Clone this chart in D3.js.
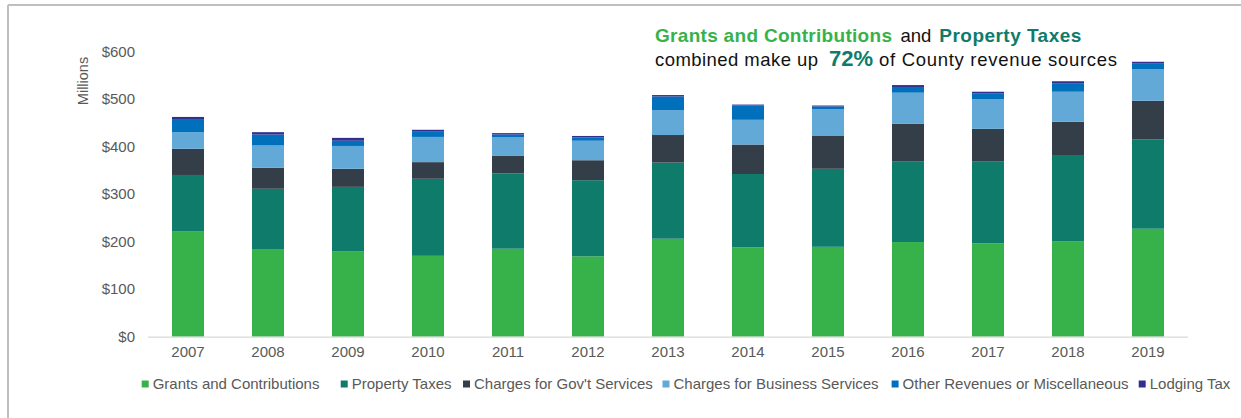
<!DOCTYPE html>
<html>
<head>
<meta charset="utf-8">
<script src="https://cdn.jsdelivr.net/npm/d3@7"></script>
<style>
  html, body { margin: 0; padding: 0; background: #fff; }
  svg { display: block; font-family: "Liberation Sans", Arial, sans-serif; }
</style>
</head>
<body>
<svg id="chart" width="1241" height="418"></svg>
<script>
// Fiscal years on the x axis
const years = ["2007","2008","2009","2010","2011","2012","2013","2014","2015","2016","2017","2018","2019"];

// Revenue by source, in millions of dollars
const grants        = [222, 183, 179, 170, 185, 169, 206, 188, 189, 199, 196, 200, 227];
const propertyTaxes = [118, 128, 136, 162, 158, 160, 160, 154, 164, 169, 172, 182, 188];
const govServices   = [55, 44, 38, 35, 37, 42, 58, 62, 70, 80, 69, 70, 81];
const bizServices   = [35, 47, 48, 53, 39, 41, 52, 52, 55, 65, 62, 63, 66];
const otherRevenue  = [26, 23, 11, 11, 6, 7, 29, 30, 6, 12, 12, 18, 12];
const lodgingTax    = [6, 5, 6, 4, 3, 3, 3, 2, 2, 4, 4, 4, 4];

const seriesNames = ["Grants and Contributions", "Property Taxes", "Charges for Gov't Services",
                     "Charges for Business Services", "Other Revenues or Miscellaneous", "Lodging Tax"];
const seriesValues = [grants, propertyTaxes, govServices, bizServices, otherRevenue, lodgingTax];
const seriesColors = ["#37b24a", "#0e7b6b", "#343e48", "#62a9d8", "#0070bd", "#332f8f"];

const yTicks = [0, 100, 200, 300, 400, 500, 600];

const svg = d3.select("#chart");

// Frame lines along the top and left edges
svg.append("line").attr("x1", 8).attr("x2", 1241).attr("y1", 5).attr("y2", 5)
  .attr("stroke", "#bfbfbf").attr("stroke-width", 2);
svg.append("line").attr("x1", 8).attr("x2", 8).attr("y1", 5).attr("y2", 418)
  .attr("stroke", "#bfbfbf").attr("stroke-width", 2);

const plot = { left: 148, right: 1188, top: 51.3, bottom: 336.7 };

const x = d3.scaleBand().domain(years).range([plot.left, plot.right]).paddingInner(0.6).paddingOuter(0.3);
const y = d3.scaleLinear().domain([0, 600]).range([plot.bottom, plot.top]);

// Stack the series
const table = years.map((yr, i) => {
  const row = { year: yr };
  seriesNames.forEach((n, k) => row[n] = seriesValues[k][i]);
  return row;
});
const stacked = d3.stack().keys(seriesNames)(table);

svg.append("g").selectAll("g")
  .data(stacked)
  .join("g")
  .attr("fill", (d, i) => seriesColors[i])
  .selectAll("rect")
  .data(d => d)
  .join("rect")
  .attr("x", d => x(d.data.year))
  .attr("width", x.bandwidth())
  .attr("y", d => y(d[1]))
  .attr("height", d => y(d[0]) - y(d[1]));

// Y axis labels
const yAxis = svg.append("g")
  .attr("transform", `translate(${plot.left},0)`)
  .call(d3.axisLeft(y).tickValues(yTicks).tickFormat(d => "$" + d).tickSize(0).tickPadding(13));
yAxis.select(".domain").remove();
yAxis.selectAll("text").attr("font-size", 15).attr("fill", "#595959")
  .attr("font-family", "Liberation Sans, Arial, sans-serif");

// X axis
const xAxis = svg.append("g")
  .attr("transform", `translate(0,${plot.bottom})`)
  .call(d3.axisBottom(x).tickSize(0).tickPadding(10));
xAxis.select(".domain").attr("stroke", "#d9d9d9").attr("stroke-width", 1.3)
  .attr("d", `M${plot.left},0.5H${plot.right}`);
xAxis.selectAll("text").attr("font-size", 15).attr("fill", "#595959")
  .attr("font-family", "Liberation Sans, Arial, sans-serif");

// Axis title
svg.append("text")
  .attr("transform", "translate(88,81) rotate(-90)")
  .attr("text-anchor", "middle")
  .attr("font-size", 14.5)
  .attr("fill", "#595959")
  .text("Millions");

// Legend
const legendX = [141.7, 340.7, 463, 662.5, 891.6, 1138.7];
const legend = svg.append("g").selectAll("g")
  .data(seriesNames)
  .join("g")
  .attr("transform", (d, i) => `translate(${legendX[i]},384)`);
legend.append("rect").attr("x", 0).attr("y", -3.5).attr("width", 7).attr("height", 7)
  .attr("fill", (d, i) => seriesColors[i]);
legend.append("text").attr("x", 11).attr("dy", "0.35em")
  .attr("font-size", 15).attr("fill", "#595959").text(d => d);

// Headline
const line1 = svg.append("text").attr("y", 42).attr("font-size", 19);
line1.append("tspan").attr("x", 655).attr("font-weight", "bold").attr("fill", "#37b24a")
  .attr("textLength", 237).attr("lengthAdjust", "spacing").text("Grants and Contributions");
line1.append("tspan").attr("x", 900.5).attr("fill", "#111").attr("font-size", 18.5)
  .text("and");
line1.append("tspan").attr("x", 939.3).attr("font-weight", "bold").attr("fill", "#0e7b6b")
  .attr("textLength", 142).attr("lengthAdjust", "spacing").text("Property Taxes");

const line2 = svg.append("text").attr("y", 66).attr("font-size", 18.5).attr("fill", "#111");
line2.append("tspan").attr("x", 655).attr("textLength", 163).attr("lengthAdjust", "spacing")
  .text("combined make up");
line2.append("tspan").attr("x", 829).attr("font-weight", "bold").attr("font-size", 22)
  .attr("fill", "#0e7b6b").text("72%");
line2.append("tspan").attr("x", 879).attr("textLength", 238).attr("lengthAdjust", "spacing")
  .text("of County revenue sources");
</script>
</body>
</html>
